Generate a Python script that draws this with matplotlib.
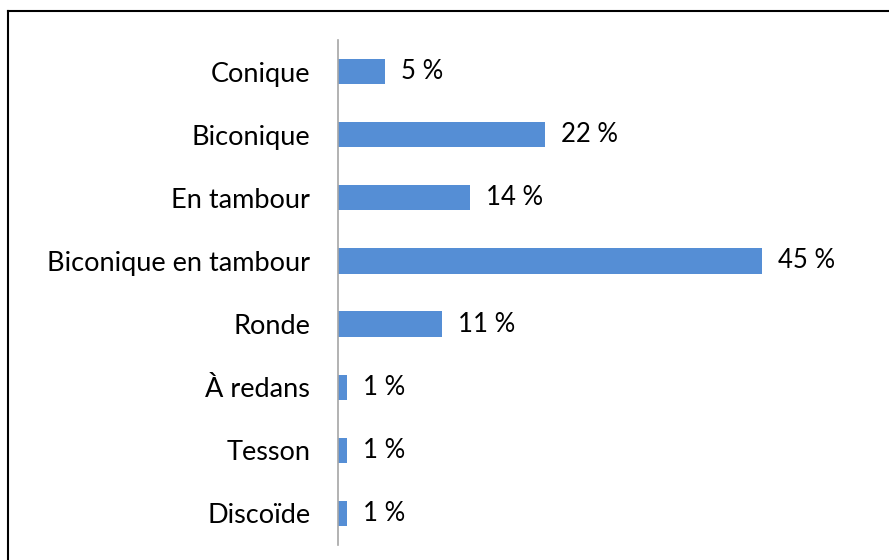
import matplotlib
matplotlib.use("Agg")
import matplotlib.pyplot as plt
from matplotlib.lines import Line2D

# categories top to bottom
categories = ["Conique", "Biconique", "En tambour", "Biconique en tambour",
              "Ronde", "À redans", "Tesson", "Discoïde"]
values = [5, 22, 14, 45, 11, 1, 1, 1]
labels = ["5 %", "22 %", "14 %", "45 %", "11 %", "1 %", "1 %", "1 %"]

plt.rcParams['font.family'] = ['Lato', 'DejaVu Sans']

fig = plt.figure(figsize=(8.89, 5.6), dpi=100)
ax = fig.add_axes([338/889, 1-545/560, (809-338)/889, (545-40)/560])

ypos = list(range(len(categories)))
ax.barh(ypos, values, height=0.4, color="#558ED5")
for y, v, lab in zip(ypos, values, labels):
    ax.text(v + 1.7, y, lab, va="center", ha="left", fontsize=18.5)

ax.set_ylim(len(categories) - 0.5, -0.5)
ax.set_xlim(0, 50)
ax.set_yticks(ypos)
ax.set_yticklabels(categories, fontsize=19.5)
ax.tick_params(axis="y", length=0, pad=20)
ax.set_xticks([])
for s in ["top", "right", "bottom"]:
    ax.spines[s].set_visible(False)
ax.spines["left"].set_color("#A6A6A6")
ax.spines["left"].set_linewidth(1.2)

# chart frame (top and left edges visible)
fig.add_artist(Line2D([8/889, 1], [1-11/560, 1-11/560], color="black", lw=1.5))
fig.add_artist(Line2D([8/889, 8/889], [0, 1-11/560], color="black", lw=1.5))

fig.savefig("out.png", dpi=100)
